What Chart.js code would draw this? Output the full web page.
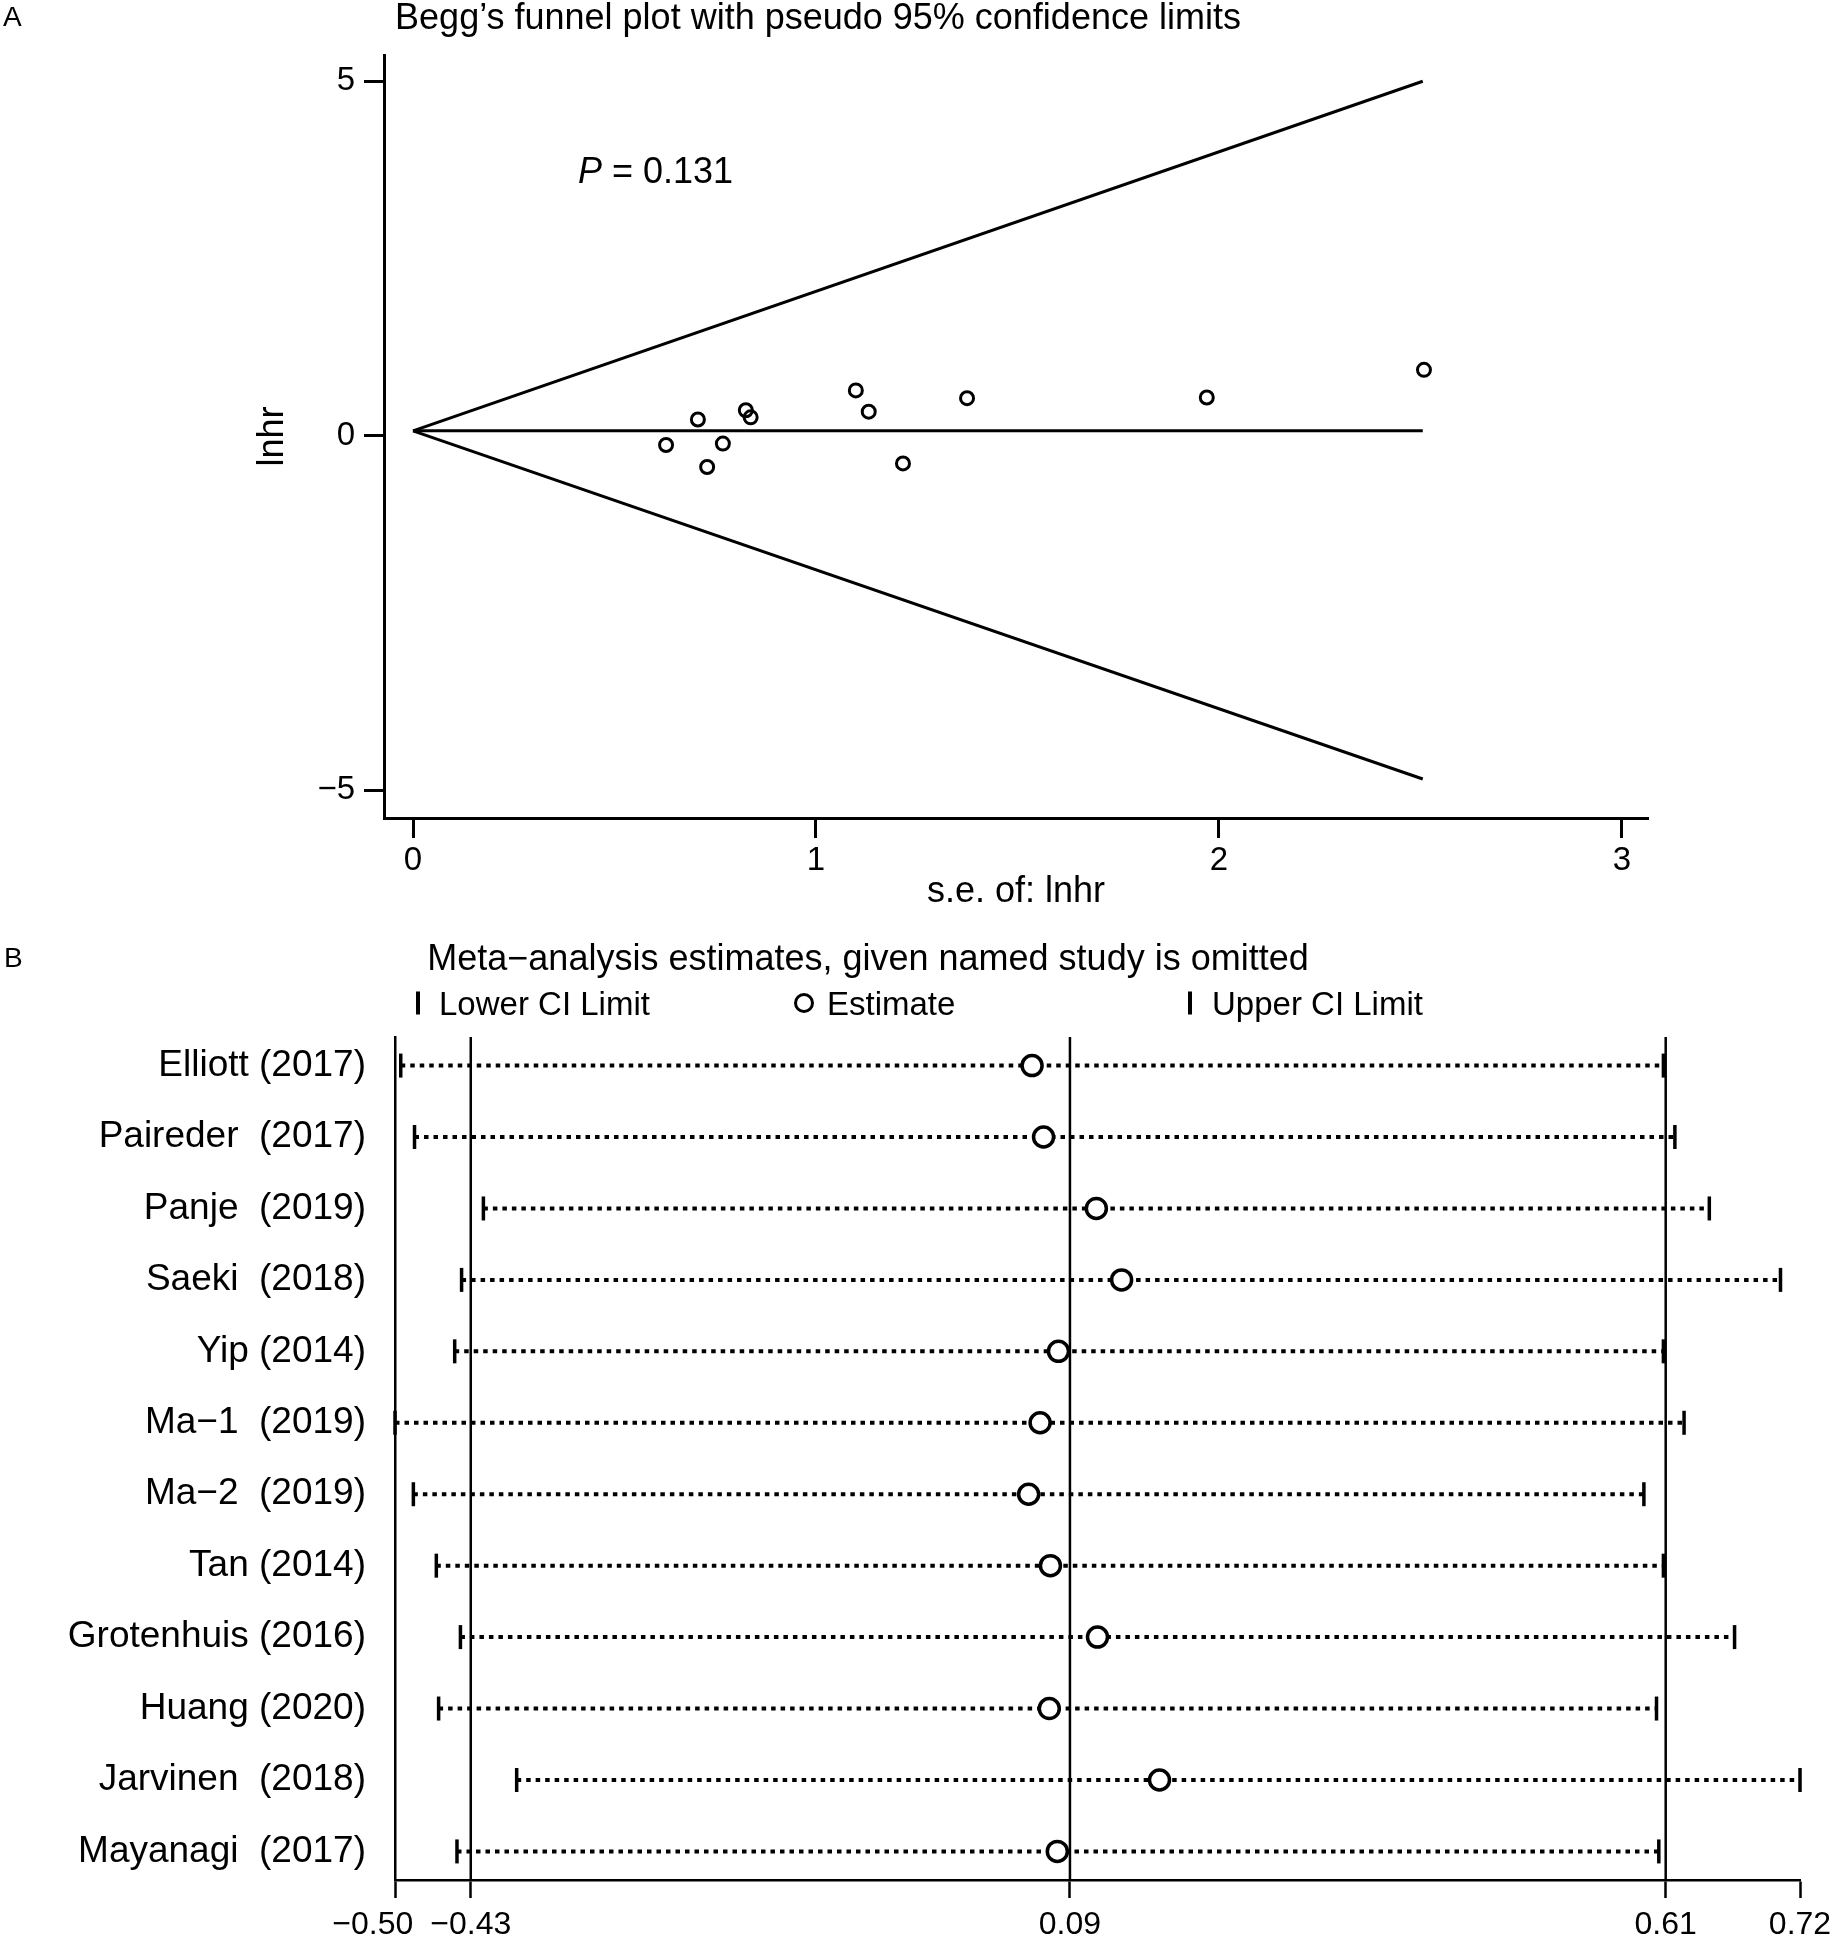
<!DOCTYPE html>
<html>
<head>
<meta charset="utf-8">
<script src="https://cdn.jsdelivr.net/npm/chart.js@4.4.0/dist/chart.umd.min.js"></script>
<style>
    body { margin: 0; background: #fff; }
    #page { position: relative; width: 1840px; height: 1938px; font-family: "Liberation Sans", Arial, sans-serif; color: #000; }
    canvas { position: absolute; left: 0; }
    .txt { position: absolute; line-height: 1; white-space: pre; transform: translateY(-50%); }
    .mid { transform: translate(-50%, -50%); }
    .tag { font-family: "Liberation Sans Narrow", "Liberation Sans", sans-serif; font-size: 28px; }
    .bar { position: absolute; width: 4px; height: 23px; background: #000; transform: translateY(-50%); }
    .ring { position: absolute; width: 14px; height: 14px; border: 3.5px solid #000; border-radius: 50%; transform: translateY(-50%); }
</style>
</head>
<body>
<div id="page">
    <canvas id="funnelChart" width="1840" height="930" style="top:0"></canvas>
    <canvas id="influenceChart" width="1840" height="1008" style="top:930px"></canvas>

    <div class="txt tag" style="left:3px;top:17px">A</div>
    <div class="txt mid" style="left:818px;top:17px;font-size:36px">Begg’s funnel plot with pseudo 95% confidence limits</div>
    <div class="txt" style="left:578px;top:171px;font-size:36px"><i>P</i> = 0.131</div>

    <div class="txt tag" style="left:4px;top:958px">B</div>
    <div class="txt mid" style="left:868px;top:958px;font-size:36px">Meta−analysis estimates, given named study is omitted</div>
    <div class="bar" style="left:416px;top:1003px"></div>
    <div class="txt" style="left:439px;top:1003px;font-size:33px">Lower CI Limit</div>
    <div class="ring" style="left:794px;top:1003px"></div>
    <div class="txt" style="left:827px;top:1003px;font-size:33px">Estimate</div>
    <div class="bar" style="left:1188px;top:1003px"></div>
    <div class="txt" style="left:1212px;top:1003px;font-size:33px">Upper CI Limit</div>
</div>

<script>
Chart.defaults.font.family = '"Liberation Sans", Arial, sans-serif';
Chart.defaults.color = '#000';

// Panel A: Begg's funnel plot
const seLnhr = [0.628, 0.707, 0.730, 0.769, 0.826, 0.838, 1.099, 1.131, 1.216, 1.375, 1.970, 2.509];
const lnhr = [-0.13, 0.23, -0.44, -0.11, 0.36, 0.26, 0.64, 0.34, -0.39, 0.53, 0.54, 0.93];
const funnelSe = [0, 2.506];
const funnelUpper = [0.07, 5.0];
const funnelLower = [0.07, -4.84];
const pooledLnhr = 0.07;
const funnelXTicks = [0, 1, 2, 3];
const funnelYTicks = [-5, 0, 5];

// Panel B: leave-one-out estimates
const studies = [
    'Elliott (2017)', 'Paireder  (2017)', 'Panje  (2019)', 'Saeki  (2018)',
    'Yip (2014)', 'Ma−1  (2019)', 'Ma−2  (2019)', 'Tan (2014)',
    'Grotenhuis (2016)', 'Huang (2020)', 'Jarvinen  (2018)', 'Mayanagi  (2017)'
];
const lowerCI = [-0.495, -0.483, -0.423, -0.442, -0.448, -0.500, -0.484, -0.464, -0.443, -0.462, -0.394, -0.446];
const estimate = [0.055, 0.065, 0.111, 0.133, 0.078, 0.062, 0.052, 0.071, 0.112, 0.070, 0.166, 0.077];
const upperCI = [0.605, 0.615, 0.645, 0.707, 0.605, 0.623, 0.588, 0.605, 0.667, 0.599, 0.724, 0.601];
const summaryCI = [-0.434, 0.088, 0.607];
const influenceXTicks = [-0.50, -0.434, 0.088, 0.607, 0.724];

const minusSign = s => String(s).replace('-', '\u2212');

function lineSet(points, extra) {
    return Object.assign({
        data: points,
        showLine: true,
        borderColor: '#000',
        borderWidth: 3,
        pointRadius: 0,
        fill: false,
        clip: false
    }, extra || {});
}

new Chart(document.getElementById('funnelChart'), {
    type: 'scatter',
    data: {
        datasets: [
            {
                data: seLnhr.map((se, i) => ({ x: se, y: lnhr[i] })),
                pointStyle: 'circle',
                pointRadius: 6.5,
                pointBorderWidth: 3,
                pointBorderColor: '#000',
                pointBackgroundColor: 'rgba(0,0,0,0)'
            },
            lineSet(funnelSe.map((se, i) => ({ x: se, y: funnelUpper[i] }))),
            lineSet(funnelSe.map((se, i) => ({ x: se, y: funnelLower[i] }))),
            lineSet(funnelSe.map(se => ({ x: se, y: pooledLnhr })))
        ]
    },
    options: {
        responsive: false,
        devicePixelRatio: 1,
        animation: false,
        events: [],
        layout: { padding: { left: 251, right: 192, top: 55, bottom: 16 } },
        plugins: { legend: { display: false }, tooltip: { enabled: false } },
        scales: {
            x: {
                type: 'linear',
                min: -0.072,
                max: 3.065,
                afterBuildTicks: s => { s.ticks = funnelXTicks.map(v => ({ value: v })); },
                ticks: { font: { size: 33 }, padding: 3, maxRotation: 0, autoSkip: false },
                grid: { drawOnChartArea: false, tickLength: 20, tickWidth: 3, color: '#000' },
                border: { color: '#000', width: 3 },
                title: { display: true, text: 's.e. of: lnhr', font: { size: 36 }, padding: 0 },
                afterFit: s => { s.height = 96; }
            },
            y: {
                type: 'linear',
                min: -5.39,
                max: 5.37,
                afterBuildTicks: s => { s.ticks = funnelYTicks.map(v => ({ value: v })); },
                ticks: { font: { size: 33 }, padding: 9, autoSkip: false, callback: v => minusSign(v) },
                grid: { drawOnChartArea: false, tickLength: 20, tickWidth: 3, color: '#000' },
                border: { color: '#000', width: 3 },
                title: { display: true, text: 'lnhr', font: { size: 36 }, padding: 0 },
                afterFit: s => { s.width = 133; }
            }
        }
    }
});

const rowSets = studies.map((name, i) => lineSet(
    [{ x: lowerCI[i], y: i + 1 }, { x: upperCI[i], y: i + 1 }],
    {
        borderWidth: 4,
        borderDash: [4.5, 5],
        pointStyle: 'line',
        pointRotation: 90,
        pointRadius: 12,
        pointBorderWidth: 3.5,
        pointBorderColor: '#000',
        order: 2
    }
));

const summarySets = summaryCI.map(v => lineSet(
    [{ x: v, y: 0.6 }, { x: v, y: 12.4 }],
    { borderWidth: 2.5, order: 3 }
));

new Chart(document.getElementById('influenceChart'), {
    type: 'scatter',
    data: {
        datasets: [
            {
                data: estimate.map((v, i) => ({ x: v, y: i + 1 })),
                pointStyle: 'circle',
                pointRadius: 10,
                pointBorderWidth: 3.5,
                pointBorderColor: '#000',
                pointBackgroundColor: '#fff',
                clip: false,
                order: 1
            },
            ...rowSets,
            ...summarySets
        ]
    },
    options: {
        responsive: false,
        devicePixelRatio: 1,
        animation: false,
        events: [],
        layout: { padding: { left: 20, right: 40, top: 107, bottom: 0 } },
        plugins: { legend: { display: false }, tooltip: { enabled: false } },
        scales: {
            x: {
                type: 'linear',
                min: -0.5,
                max: 0.724,
                afterBuildTicks: s => { s.ticks = influenceXTicks.map(v => ({ value: v })); },
                ticks: {
                    font: { size: 32 }, padding: 8, maxRotation: 0, autoSkip: false,
                    // the first label sits a little left of its tick, as in the original
                    callback: (v, i) => minusSign(v.toFixed(2)) + (i === 0 ? '     ' : '')
                },
                grid: { drawOnChartArea: false, tickLength: 18, tickWidth: 2.5, color: '#000' },
                border: { color: '#000', width: 2.5 },
                afterFit: s => { s.height = 58; }
            },
            y: {
                type: 'linear',
                reverse: true,
                min: 0.6,
                max: 12.4,
                afterBuildTicks: s => { s.ticks = studies.map((n, i) => ({ value: i + 1 })); },
                ticks: { font: { size: 37 }, padding: 21, autoSkip: false, callback: (v, i) => studies[i] },
                grid: { display: false },
                border: { display: true, color: '#000', width: 2.5 },
                afterFit: s => { s.width = 375; }
            }
        }
    }
});
</script>
</body>
</html>
